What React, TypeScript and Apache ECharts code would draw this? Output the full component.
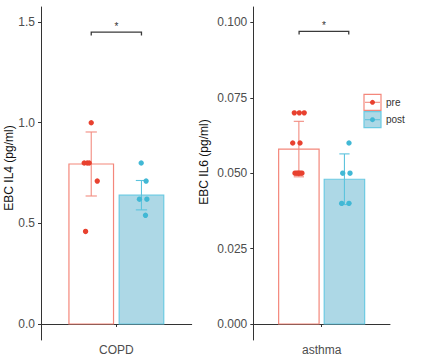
import React, { useEffect, useRef } from 'react';
import * as echarts from 'echarts';

// ---- data ----
const categories = ['COPD', 'asthma'];
const groups = ['pre', 'post'];
const yTitles = ['EBC IL4 (pg/ml)', 'EBC IL6 (pg/ml)'];

const copdMean = [0.795, 0.64];
const copdSd = [0.159, 0.073];
const asthmaMean = [0.058, 0.048];
const asthmaSd = [0.0092, 0.0084];

const copdPreValues = [1.0, 0.8, 0.8, 0.8, 0.71, 0.46];
const copdPreJitter = [0, -0.056, -0.032, -0.016, 0.048, -0.045];
const copdPostValues = [0.8, 0.71, 0.62, 0.62, 0.54];
const copdPostJitter = [-0.002, 0.037, -0.016, 0.043, 0.032];
const asthmaPreValues = [0.07, 0.07, 0.07, 0.06, 0.06, 0.05, 0.05, 0.05, 0.05, 0.05];
const asthmaPreJitter = [-0.04, 0.004, 0.047, -0.054, 0.01, -0.034, -0.017, -0.004, 0.01, 0.027];
const asthmaPostValues = [0.06, 0.05, 0.05, 0.04, 0.04];
const asthmaPostJitter = [0.04, -0.015, 0.049, -0.024, 0.04];

const yTicksCopd = [0, 0.5, 1.0, 1.5];
const yTicksAsthma = [0, 0.025, 0.05, 0.075, 0.1];
const yRangeCopd = [-0.0795, 1.575];
const yRangeAsthma = [-0.0053, 0.1051];

const signifY = [1.45, 0.097];
const signifTick = [0.016, 0.001];
const signifEnds = [[-0.2, 0.2], [-0.198, 0.238]];
const signifLabel = '*';

// ---- styles ----
const FONT = "'Liberation Sans', Arial, Helvetica, sans-serif";
const barStroke = ['#F4877B', '#6CCAE2'];
const barFill = ['#FFFFFF', '#ADD8E6'];
const pointColor = ['#E8412F', '#41B8D5'];
const errColor = ['#F28C80', '#5CC3DD'];
const DODGE = 0.2;
const BAR_W = 0.355;
const CAP_W = 0.09;
const AXIS_COLOR = '#333333';
const LABEL_COLOR = '#4D4D4D';

function unitOf(api: any) {
  return api.size([1, 0])[0] / 1.2;
}

function barSeries(gridIdx: number, means: number[], sds: number[]) {
  return {
    type: 'custom',
    xAxisIndex: gridIdx,
    yAxisIndex: gridIdx,
    z: 2,
    data: means.map((m, g) => [0, g, m, sds[g]]),
    renderItem: (params: any, api: any) => {
      const g = api.value(1);
      const m = api.value(2);
      const u = unitOf(api);
      const base = api.coord([0, 0]);
      const cx = base[0] + (g === 0 ? -DODGE : DODGE) * u;
      const top = api.coord([0, m])[1];
      const w = BAR_W * u;
      return {
        type: 'rect',
        shape: { x: cx - w / 2, y: top, width: w, height: base[1] - top },
        style: { fill: barFill[g], stroke: barStroke[g], lineWidth: 1.2 },
      };
    },
  };
}

function errSeries(gridIdx: number, means: number[], sds: number[]) {
  return {
    type: 'custom',
    xAxisIndex: gridIdx,
    yAxisIndex: gridIdx,
    z: 3,
    data: means.map((m, g) => [0, g, m, sds[g]]),
    renderItem: (params: any, api: any) => {
      const g = api.value(1);
      const m = api.value(2);
      const sd = api.value(3);
      const u = unitOf(api);
      const base = api.coord([0, 0]);
      const cx = base[0] + (g === 0 ? -DODGE : DODGE) * u;
      const yHi = api.coord([0, m + sd])[1];
      const yLo = api.coord([0, m - sd])[1];
      const hw = (CAP_W * u) / 2;
      const style = { stroke: errColor[g], lineWidth: 1.1, fill: 'none' };
      return {
        type: 'group',
        children: [
          { type: 'line', shape: { x1: cx, y1: yHi, x2: cx, y2: yLo }, style },
          { type: 'line', shape: { x1: cx - hw, y1: yHi, x2: cx + hw, y2: yHi }, style },
          { type: 'line', shape: { x1: cx - hw, y1: yLo, x2: cx + hw, y2: yLo }, style },
        ],
      };
    },
  };
}

function pointSeries(gridIdx: number, g: number, values: number[], jitter: number[]) {
  return {
    type: 'custom',
    xAxisIndex: gridIdx,
    yAxisIndex: gridIdx,
    z: 4,
    data: values.map((v, i) => [0, g, v, jitter[i]]),
    renderItem: (params: any, api: any) => {
      const grp = api.value(1);
      const v = api.value(2);
      const j = api.value(3);
      const u = unitOf(api);
      const base = api.coord([0, v]);
      const cx = base[0] + ((grp === 0 ? -DODGE : DODGE) + j) * u;
      return {
        type: 'circle',
        shape: { cx, cy: base[1], r: 2.7 },
        style: { fill: pointColor[grp] },
      };
    },
  };
}

function signifSeries(gridIdx: number) {
  return {
    type: 'custom',
    xAxisIndex: gridIdx,
    yAxisIndex: gridIdx,
    z: 5,
    data: [[0, signifY[gridIdx], signifTick[gridIdx], signifEnds[gridIdx][0], signifEnds[gridIdx][1]]],
    renderItem: (params: any, api: any) => {
      const y = api.value(1);
      const t = api.value(2);
      const e1 = api.value(3);
      const e2 = api.value(4);
      const u = unitOf(api);
      const base = api.coord([0, y]);
      const yb = api.coord([0, y - t])[1];
      const x1 = base[0] + e1 * u;
      const x2 = base[0] + e2 * u;
      return {
        type: 'group',
        children: [
          {
            type: 'polyline',
            shape: { points: [[x1, yb], [x1, base[1]], [x2, base[1]], [x2, yb]] },
            style: { stroke: '#3A3A3A', lineWidth: 1.3, fill: 'none' },
          },
          {
            type: 'text',
            x: (x1 + x2) / 2,
            y: base[1] - 1,
            style: {
              text: signifLabel,
              fontSize: 10,
              fontFamily: FONT,
              fill: '#333',
              align: 'center',
              verticalAlign: 'bottom',
            },
          },
        ],
      };
    },
  };
}

function xAxisFor(gridIdx: number) {
  return {
    type: 'category',
    gridIndex: gridIdx,
    data: [categories[gridIdx]],
    boundaryGap: true,
    axisLine: { lineStyle: { color: AXIS_COLOR, width: 1 } },
    axisTick: { show: true, length: 3, alignWithLabel: true, lineStyle: { color: AXIS_COLOR } },
    axisLabel: { color: LABEL_COLOR, fontSize: 12, fontFamily: FONT, margin: 4 },
    splitLine: { show: false },
  };
}

function yAxisFor(gridIdx: number, range: number[], ticks: number[], digits: number) {
  return {
    type: 'value',
    gridIndex: gridIdx,
    min: range[0],
    max: range[1],
    axisLine: { show: true, lineStyle: { color: AXIS_COLOR, width: 1 } },
    axisTick: { show: true, length: 3, customValues: ticks, lineStyle: { color: AXIS_COLOR } },
    axisLabel: {
      customValues: ticks,
      formatter: (v: number) => v.toFixed(digits),
      color: LABEL_COLOR,
      fontSize: 12,
      fontFamily: FONT,
      margin: 6,
    },
    splitLine: { show: false },
  };
}

export default function App() {
  const ref = useRef<HTMLDivElement>(null);
  useEffect(() => {
    if (!ref.current) return;
    const chart = echarts.init(ref.current, undefined, { renderer: 'svg' });

    const legendItems: any[] = [];
    groups.forEach((name, g) => {
      const x = 364;
      const y = 94.3 + g * 17.4;
      legendItems.push(
        { type: 'rect', shape: { x, y, width: 17, height: 16 }, style: { fill: barFill[g], stroke: barStroke[g], lineWidth: 1.2 } },
        { type: 'line', shape: { x1: x + 1, y1: y + 8, x2: x + 16, y2: y + 8 }, style: { stroke: errColor[g], lineWidth: 1.1 } },
        { type: 'circle', shape: { cx: x + 8.5, cy: y + 8, r: 2.5 }, style: { fill: pointColor[g] } },
        { type: 'text', x: x + 22, y: y + 8, style: { text: name, fontSize: 10, fontFamily: FONT, fill: '#333', align: 'left', verticalAlign: 'middle' } }
      );
    });

    const titles = [
      { x: 8.5, y: 168 },
      { x: 204, y: 162 },
    ].map((p, i) => ({
      type: 'text',
      x: p.x,
      y: p.y,
      rotation: Math.PI / 2,
      style: { text: yTitles[i], fontSize: 12, fontFamily: FONT, fill: '#111', align: 'center', verticalAlign: 'middle' },
    }));

    chart.setOption({
      animation: false,
      backgroundColor: '#ffffff',
      grid: [
        { left: 41, top: 7, width: 150.7, height: 333 },
        { left: 253.3, top: 7, width: 136.7, height: 333 },
      ],
      xAxis: [xAxisFor(0), xAxisFor(1)],
      yAxis: [
        yAxisFor(0, yRangeCopd, yTicksCopd, 1),
        yAxisFor(1, yRangeAsthma, yTicksAsthma, 3),
      ],
      series: [
        barSeries(0, copdMean, copdSd),
        errSeries(0, copdMean, copdSd),
        pointSeries(0, 0, copdPreValues, copdPreJitter),
        pointSeries(0, 1, copdPostValues, copdPostJitter),
        signifSeries(0),
        barSeries(1, asthmaMean, asthmaSd),
        errSeries(1, asthmaMean, asthmaSd),
        pointSeries(1, 0, asthmaPreValues, asthmaPreJitter),
        pointSeries(1, 1, asthmaPostValues, asthmaPostJitter),
        signifSeries(1),
      ],
      graphic: [...titles, ...legendItems],
    });
    return () => chart.dispose();
  }, []);
  return <div ref={ref} style={{ position: 'fixed', left: 0, top: 0, width: 439, height: 361 }} />;
}
